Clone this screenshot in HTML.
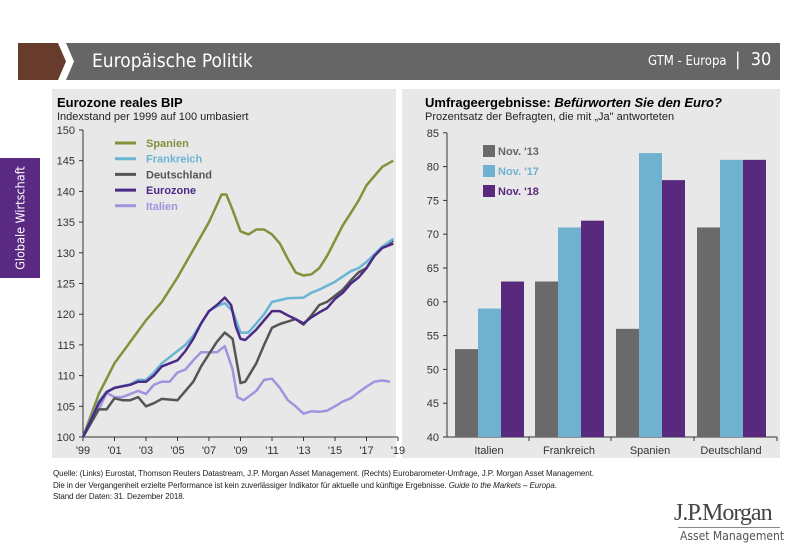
<!DOCTYPE html><html><head><meta charset="utf-8"><style>
body{margin:0;width:800px;height:553px;background:#fff;position:relative;overflow:hidden;font-family:"Liberation Sans",sans-serif}
.a{position:absolute}
</style></head><body>
<svg class="a" style="left:0;top:0" width="800" height="100"><polygon points="18,43 58,43 66,61.5 58,80 18,80" fill="#683c2c"/><polygon points="66,43 780,43 780,80 66,80 74,61.5" fill="#666"/></svg>
<div class="a" style="left:92px;top:50px;color:#fff;font-size:19px;font-family:'DejaVu Sans Condensed','Liberation Sans Narrow',sans-serif">Europäische Politik</div>
<div class="a" style="left:648px;top:54px;color:#fff;font-size:13px;font-family:'DejaVu Sans Condensed',sans-serif">GTM - Europa</div>
<div class="a" style="left:735px;top:49px;color:#fff;font-size:18px;font-family:'DejaVu Sans Condensed',sans-serif">|&nbsp; 30</div>
<div class="a" style="left:0;top:158px;width:40px;height:120px;background:#5a2a82"></div>
<div class="a" style="left:20px;top:218px;transform:translate(-50%,-50%) rotate(-90deg);color:#fff;font-size:12.5px;white-space:nowrap;font-family:'DejaVu Sans Condensed',sans-serif">Globale Wirtschaft</div>
<div class="a" style="left:52px;top:89px;width:344px;height:369px;background:#e8e8e8"></div>
<div class="a" style="left:402px;top:89px;width:378px;height:369px;background:#e8e8e8"></div>
<div class="a" style="left:57px;top:95px;font-size:13px;font-weight:bold">Eurozone reales BIP</div>
<div class="a" style="left:57px;top:111px;font-size:11px;color:#222">Indexstand per 1999 auf 100 umbasiert</div>
<div class="a" style="left:425px;top:95px;font-size:13px;font-weight:bold">Umfrageergebnisse: <i>Befürworten Sie den Euro?</i></div>
<div class="a" style="left:425px;top:111px;font-size:11px;color:#222">Prozentsatz der Befragten, die mit „Ja" antworteten</div>
<svg class="a" id="s" style="left:0;top:0" width="800" height="553" font-family="Liberation Sans" font-size="11" fill="#333"></svg>
<div class="a" style="left:53px;top:468px;font-size:8px;line-height:11.5px;color:#222;letter-spacing:-0.1px">Quelle: (Links) Eurostat, Thomson Reuters Datastream, J.P. Morgan Asset Management. (Rechts) Eurobarometer-Umfrage, J.P. Morgan Asset Management.<br>Die in der Vergangenheit erzielte Performance ist kein zuverlässiger Indikator für aktuelle und künftige Ergebnisse. <i>Guide to the Markets – Europa</i>.<br>Stand der Daten: 31. Dezember 2018.</div>
<div class="a" style="left:674px;top:500px;font-family:'Liberation Serif',serif;font-size:24px;color:#444;letter-spacing:-1px">J.P.Morgan</div>
<div class="a" style="left:678px;top:527px;width:102px;height:1px;background:#888"></div>
<div class="a" style="left:680px;top:529px;font-size:12px;color:#555;font-family:'DejaVu Sans Condensed',sans-serif">Asset Management</div>
<script>
var s='';
function X(y){return 83+(y-1999)*15.75}function Y(v){return 437-(v-100)*6.14}
s+='<line x1="83" y1="130" x2="83" y2="437" stroke="#333"/><line x1="83" y1="437" x2="398" y2="437" stroke="#333"/>';
for(var v=100;v<=150;v+=5){s+='<line x1="79" x2="83" y1="'+Y(v)+'" y2="'+Y(v)+'" stroke="#333"/><text x="75" y="'+(Y(v)+4)+'" text-anchor="end">'+v+'</text>';}
for(var y=1999;y<=2019;y+=2){var x=X(y);s+='<line x1="'+x+'" x2="'+x+'" y1="437" y2="441" stroke="#333"/><text x="'+x+'" y="454" text-anchor="middle">\''+String(y).slice(2)+'</text>';}
var D={
sp:[1999,100,2000,107,2001,112,2002,115.5,2003,119,2004,122,2005,126,2006,130.5,2007,135,2007.8,139.5,2008.1,139.5,2008.5,137,2009,133.5,2009.5,133,2010,133.8,2010.5,133.8,2011,133,2011.5,131.5,2012,129,2012.5,126.8,2013,126.3,2013.5,126.5,2014,127.5,2014.5,129.5,2015,132,2015.5,134.5,2016,136.5,2016.5,138.5,2017,141,2017.5,142.5,2018,144,2018.7,145],
it:[1999,100,2000,104.5,2000.5,107.2,2001,106.5,2001.5,106.5,2002,107,2002.5,107.5,2003,107,2003.5,108.5,2004,109,2004.5,109,2005,110.5,2005.5,111,2006,112.5,2006.5,113.8,2007,113.8,2007.5,113.8,2008,114.8,2008.5,111,2008.8,106.5,2009.2,106,2010,107.5,2010.5,109.3,2011,109.5,2011.5,108,2012,106,2012.5,105,2013,103.8,2013.5,104.2,2014,104.1,2014.5,104.3,2015,105,2015.5,105.8,2016,106.3,2016.5,107.3,2017,108.2,2017.5,109,2018,109.2,2018.5,109],
de:[1999,100,2000,104.5,2000.5,104.5,2001,106.3,2001.5,106,2002,106,2002.5,106.5,2003,105,2003.5,105.5,2004,106.2,2005,106,2005.5,107.5,2006,109,2006.5,111.5,2007,113.5,2007.5,115.5,2008,117,2008.5,116,2009,108.8,2009.3,109,2010,112,2010.5,115,2011,117.8,2011.5,118.4,2012,118.8,2012.5,119.2,2013,118.3,2013.5,119.8,2014,121.5,2014.5,122,2015,123,2015.5,124,2016,125.5,2016.5,126.8,2017,127.5,2017.5,129.5,2018,131,2018.7,132],
fr:[1999,100,2000,105.8,2000.5,107.4,2001,108,2002,108.6,2002.5,109.3,2003,109.3,2003.5,110.5,2004,112,2005,114,2005.5,115,2006,116.5,2006.5,118.5,2007,120.5,2007.5,121.3,2008,121.8,2008.5,120.5,2009,117,2009.5,117,2010,118.5,2010.5,120,2011,122,2011.5,122.3,2012,122.6,2013,122.7,2013.5,123.5,2014,124,2015,125.3,2016,127,2016.5,127.5,2017,128.5,2018,131,2018.7,132.3],
ez:[1999,100,2000,105.5,2000.5,107.3,2001,108,2002,108.5,2002.5,109,2003,109,2003.5,110,2004,111.5,2005,112.5,2005.5,114,2006,116,2006.5,118.5,2007,120.5,2007.5,121.5,2008,122.7,2008.4,121.5,2008.7,118,2009,116,2009.3,115.8,2010,117.5,2010.5,119,2011,120.5,2011.5,120.5,2012,119.8,2012.5,119.2,2013,118.5,2013.5,119.5,2014,120.3,2014.5,121,2015,122.5,2015.5,123.5,2016,125,2016.5,126,2017,127.5,2017.5,129.5,2018,130.8,2018.7,131.5]};
var C={sp:'#84903a',it:'#a393de',de:'#555',fr:'#6ab4d4',ez:'#4b2a86'};
['sp','it','de','fr','ez'].forEach(function(k){var p=[],d=D[k];for(var i=0;i<d.length;i+=2)p.push(X(d[i]).toFixed(1)+','+Y(d[i+1]).toFixed(1));s+='<polyline points="'+p.join(' ')+'" fill="none" stroke="'+C[k]+'" stroke-width="2.5" stroke-linejoin="round"/>';});
var L=[['Spanien','sp'],['Frankreich','fr'],['Deutschland','de'],['Eurozone','ez'],['Italien','it']];
L.forEach(function(l,i){var y=143+i*15.7;s+='<line x1="115" x2="136" y1="'+y+'" y2="'+y+'" stroke="'+C[l[1]]+'" stroke-width="3"/><text x="146" y="'+(y+4)+'" font-weight="bold" fill="'+C[l[1]]+'">'+l[0]+'</text>';});
function R(v){return 437-(v-40)*6.76}
s+='<line x1="447" y1="133" x2="447" y2="437" stroke="#333"/><line x1="447" y1="437" x2="777" y2="437" stroke="#333"/>';
for(var v=40;v<=85;v+=5){s+='<line x1="443" x2="447" y1="'+R(v)+'" y2="'+R(v)+'" stroke="#333"/><text x="439" y="'+(R(v)+4)+'" text-anchor="end">'+v+'</text>';}
[529,611,694,777].forEach(function(x){s+='<line x1="'+x+'" x2="'+x+'" y1="437" y2="441" stroke="#333"/>';});
var B=[['Italien',455,[53,59,63]],['Frankreich',535,[63,71,72]],['Spanien',616,[56,82,78]],['Deutschland',697,[71,81,81]]];
var BC=['#6a6a6a','#6fb1cf','#59297e'];
B.forEach(function(b){for(var j=0;j<3;j++){var y=R(b[2][j]);s+='<rect x="'+(b[1]+j*23)+'" y="'+y+'" width="23" height="'+(437-y)+'" fill="'+BC[j]+'"/>';}s+='<text x="'+(b[1]+34)+'" y="454" text-anchor="middle">'+b[0]+'</text>';});
['Nov. \'13','Nov. \'17','Nov. \'18'].forEach(function(t,i){var y=151+i*20;s+='<rect x="483" y="'+(y-6)+'" width="12" height="12" fill="'+BC[i]+'"/><text x="498" y="'+(y+4)+'" font-weight="bold" fill="'+['#666','#6fb1cf','#59297e'][i]+'">'+t+'</text>';});
document.getElementById('s').innerHTML=s;
</script>
</body></html>
